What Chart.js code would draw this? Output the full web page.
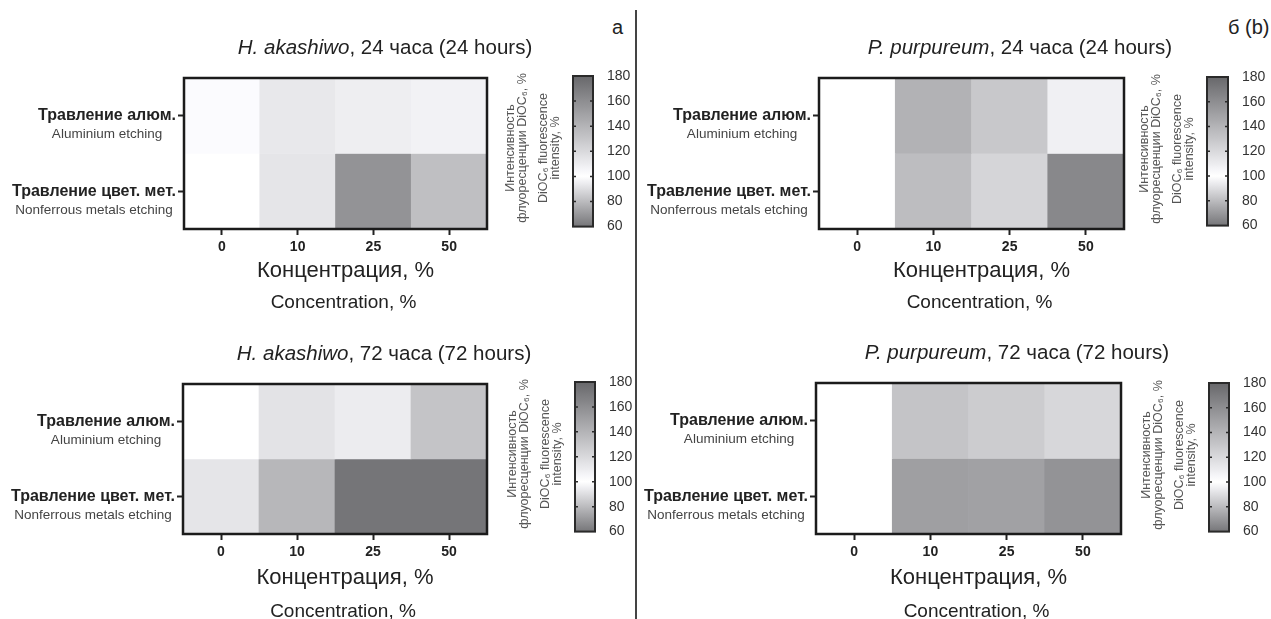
<!DOCTYPE html>
<html>
<head>
<meta charset="utf-8">
<script src="https://cdn.jsdelivr.net/npm/chart.js@4.4.1/dist/chart.umd.min.js"></script>
<style>
  body { margin: 0; background: #fff; }
  #page { position: relative; width: 1271px; height: 619px; overflow: hidden; font-family: 'Liberation Sans', Arial, sans-serif; }
  canvas { position: absolute; }
  .divider { position: absolute; left: 635px; top: 10px; width: 2px; height: 609px; background: #444; }
  .tag { position: absolute; font-size: 20px; color: #222; line-height: 24px; }
</style>
</head>
<body>
<div id="page">
  <div class="divider"></div>
  <div class="tag" style="left:612px; top:15px;">а</div>
  <div class="tag" style="left:1228px; top:15px;">б (b)</div>
  <canvas id="hm1"></canvas>
  <canvas id="hm2"></canvas>
  <canvas id="hm3"></canvas>
  <canvas id="hm4"></canvas>
  <canvas id="cb1"></canvas>
  <canvas id="cb2"></canvas>
  <canvas id="cb3"></canvas>
  <canvas id="cb4"></canvas>
</div>
<script>
const FONT = "'Liberation Sans', Arial, sans-serif";

// Data
const concentrations = ['0', '10', '25', '50'];
const rowsRu = ['Травление алюм.', 'Травление цвет. мет.'];
const rowsEn = ['Aluminium etching', 'Nonferrous metals etching'];

const akashiwo24Al = [102, 112, 109, 107];
const akashiwo24Nf = [100, 114, 157, 134];
const purpureum24Al = [100, 141, 129, 108];
const purpureum24Nf = [100, 135, 122, 163];
const akashiwo72Al = [100, 115, 110, 131];
const akashiwo72Nf = [114, 138, 173, 173];
const purpureum72Al = [100, 131, 127, 121];
const purpureum72Nf = [100, 151, 150, 157];

const scaleMin = 60, scaleMid = 100, scaleMax = 180;
const scaleTicks = [60, 80, 100, 120, 140, 160, 180];

// grey diverging scale: white at 100, dark grey at both ends
function shade(v) {
  const t = v >= scaleMid ? (v - scaleMid) / (scaleMax - scaleMid) : (scaleMid - v) / (scaleMid - scaleMin);
  const dark = v >= scaleMid ? 104 : 118;
  const g = Math.round(255 - Math.min(1, t) * (255 - dark));
  return `rgb(${g},${g},${Math.min(255, g + 3)})`;
}

function placeCanvas(id, left, top, width, height) {
  const c = document.getElementById(id);
  c.width = width;
  c.height = height;
  c.style.left = left + 'px';
  c.style.top = top + 'px';
  return c.getContext('2d');
}

// Titles, frame, english sub-labels
const panelText = {
  id: 'panelText',
  afterDraw(chart, args, opts) {
    const { ctx, chartArea: a } = chart;
    const y = chart.scales.y;
    ctx.save();
    ctx.strokeStyle = '#1b1b1b';
    ctx.lineWidth = 2.5;
    ctx.strokeRect(a.left, a.top, a.right - a.left, a.bottom - a.top);

    ctx.fillStyle = '#222';
    ctx.textBaseline = 'middle';
    const italic = `italic 20.5px ${FONT}`, plain = `20.5px ${FONT}`;
    const rest = `, ${opts.hours} часа (${opts.hours} hours)`;
    ctx.font = italic;
    const w1 = ctx.measureText(opts.species).width;
    ctx.font = plain;
    const w2 = ctx.measureText(rest).width;
    const x0 = a.left + 201 - (w1 + w2) / 2, ty = a.top - 30;
    ctx.textAlign = 'left';
    ctx.font = italic;
    ctx.fillText(opts.species, x0, ty);
    ctx.font = plain;
    ctx.fillText(rest, x0 + w1, ty);

    rowsRu.forEach((ru, i) => {
      const py = y.getPixelForValue(1.5 - i);
      ctx.font = `bold 16px ${FONT}`;
      const rw = ctx.measureText(ru).width;
      const right = a.left - 8;
      ctx.font = `13.5px ${FONT}`;
      ctx.fillStyle = '#444';
      ctx.textAlign = 'center';
      ctx.fillText(rowsEn[i], right - rw / 2, py + 19);
    });

    const cx = (a.left + a.right) / 2;
    ctx.fillStyle = '#222';
    ctx.textAlign = 'center';
    ctx.font = `22px ${FONT}`;
    ctx.fillText('Концентрация, %', cx + 10, a.bottom + opts.titleGap[0]);
    ctx.font = `19px ${FONT}`;
    ctx.fillText('Concentration, %', cx + 8, a.bottom + opts.titleGap[1]);
    ctx.restore();
  }
};

function heatmap(id, box, species, hours, alValues, nfValues, titleGap) {
  const padTop = 45, axisW = 180, axisH = 92, padRight = 60;
  const w = box.r - box.l, h = box.b - box.t;
  const ctx = placeCanvas(id, box.l - axisW, box.t - padTop, axisW + w + padRight, padTop + h + axisH);
  const rows = [alValues, nfValues];
  const tickGrid = { drawOnChartArea: false, tickLength: 6, tickWidth: 2, tickColor: '#222' };
  return new Chart(ctx, {
    type: 'bar',
    data: {
      labels: concentrations,
      datasets: rows.map((vals, i) => ({
        data: vals.map(() => [1 - i, 2 - i]),
        backgroundColor: vals.map(shade),
        borderWidth: 0,
        barPercentage: 1,
        categoryPercentage: 1,
        grouped: false
      }))
    },
    options: {
      responsive: false,
      animation: false,
      layout: { padding: { top: padTop, right: padRight } },
      plugins: {
        legend: { display: false },
        tooltip: { enabled: false },
        panelText: { species, hours, titleGap }
      },
      scales: {
        x: {
          grid: { ...tickGrid, offset: false },
          border: { display: false },
          ticks: { font: { family: FONT, size: 14, weight: 'bold' }, color: '#222', padding: 4 },
          afterFit: (s) => { s.height = axisH; }
        },
        y: {
          min: 0,
          max: 2,
          afterBuildTicks: (s) => { s.ticks = [{ value: 1.5 }, { value: 0.5 }]; },
          ticks: {
            callback: (v) => (v > 1 ? rowsRu[0] : rowsRu[1]),
            font: { family: FONT, size: 16, weight: 'bold' },
            color: '#222',
            padding: 2
          },
          grid: tickGrid,
          border: { display: false },
          afterFit: (s) => { s.width = axisW; }
        }
      }
    },
    plugins: [panelText]
  });
}

const captionLines = [
  ['Интенсивность', -62],
  ['флуоресценции DiOC₆, %', -50],
  ['DiOC₆ fluorescence', -29],
  ['intensity, %', -17]
];

const colorbarDeco = {
  id: 'colorbarDeco',
  afterDraw(chart) {
    const { ctx, chartArea: a } = chart;
    const y = chart.scales.y;
    ctx.save();
    ctx.strokeStyle = '#2a2a2a';
    ctx.lineWidth = 2;
    ctx.strokeRect(a.left, a.top, a.right - a.left, a.bottom - a.top);
    ctx.lineWidth = 1.5;
    scaleTicks.slice(1, -1).forEach((v) => {
      const py = y.getPixelForValue(v);
      ctx.beginPath();
      ctx.moveTo(a.left, py); ctx.lineTo(a.left + 3, py);
      ctx.moveTo(a.right, py); ctx.lineTo(a.right - 3, py);
      ctx.stroke();
    });
    ctx.translate(a.left, a.top + 72);
    ctx.rotate(-Math.PI / 2);
    ctx.textAlign = 'center';
    ctx.textBaseline = 'middle';
    ctx.fillStyle = '#555';
    ctx.font = `12.5px ${FONT}`;
    captionLines.forEach(([text, dx]) => ctx.fillText(text, 0, dx));
    ctx.restore();
  }
};

function gradientFill(context) {
  const chart = context.chart;
  const y = chart.scales.y;
  if (!chart.chartArea || !y) return shade(scaleMid);
  const g = chart.ctx.createLinearGradient(0, y.getPixelForValue(scaleMax), 0, y.getPixelForValue(scaleMin));
  for (let v = scaleMax; v >= scaleMin; v -= 5) {
    g.addColorStop((scaleMax - v) / (scaleMax - scaleMin), shade(v));
  }
  return g;
}

function colorbar(id, cb) {
  const padLeft = 75, padTop = 20, padBottom = 12, axisW = 45;
  const ctx = placeCanvas(id, cb.l - padLeft, cb.t - padTop, padLeft + (cb.r - cb.l) + axisW, padTop + (cb.b - cb.t) + padBottom);
  return new Chart(ctx, {
    type: 'bar',
    data: {
      labels: [''],
      datasets: [{
        data: [[scaleMin, scaleMax]],
        backgroundColor: gradientFill,
        borderWidth: 0,
        barPercentage: 1,
        categoryPercentage: 1
      }]
    },
    options: {
      responsive: false,
      animation: false,
      layout: { padding: { left: padLeft, top: padTop, bottom: padBottom } },
      plugins: { legend: { display: false }, tooltip: { enabled: false } },
      scales: {
        x: { display: false },
        y: {
          position: 'right',
          min: scaleMin,
          max: scaleMax,
          afterBuildTicks: (s) => { s.ticks = scaleTicks.map((v) => ({ value: v })); },
          ticks: { font: { family: FONT, size: 14 }, color: '#333', padding: 6 },
          grid: { display: false },
          border: { display: false },
          afterFit: (s) => { s.width = axisW; }
        }
      }
    },
    plugins: [colorbarDeco]
  });
}

heatmap('hm1', { l: 184, t: 78, r: 487, b: 229 }, 'H. akashiwo', 24, akashiwo24Al, akashiwo24Nf, [42, 74]);
heatmap('hm2', { l: 819, t: 78, r: 1124, b: 229 }, 'P. purpureum', 24, purpureum24Al, purpureum24Nf, [42, 74]);
heatmap('hm3', { l: 183, t: 384, r: 487, b: 534 }, 'H. akashiwo', 72, akashiwo72Al, akashiwo72Nf, [44, 78]);
heatmap('hm4', { l: 816, t: 383, r: 1121, b: 534 }, 'P. purpureum', 72, purpureum72Al, purpureum72Nf, [44, 78]);

colorbar('cb1', { l: 573, t: 76, r: 593, b: 229 });
colorbar('cb2', { l: 1207, t: 77, r: 1228, b: 228 });
colorbar('cb3', { l: 575, t: 382, r: 595, b: 534 });
colorbar('cb4', { l: 1209, t: 383, r: 1229, b: 534 });
</script>
</body>
</html>
